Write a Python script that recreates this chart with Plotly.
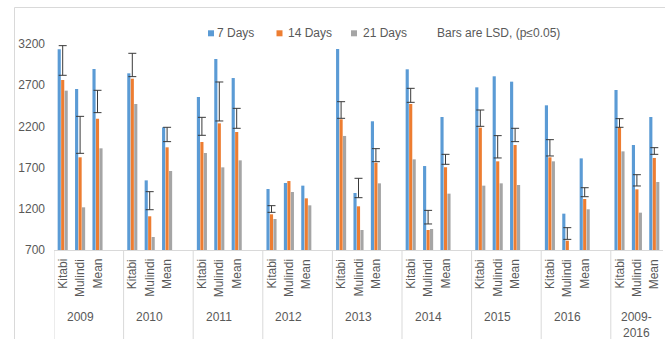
import plotly.graph_objects as go

# Yield by site and year for three sampling intervals
years = ["2009", "2010", "2011", "2012", "2013", "2014", "2015", "2016", "2009-<br>2016"]
sites = ["Kitabi", "Mulindi", "Mean"]

days7 = [3135, 2654, 2897, 2844, 1545, 2189, 2557, 3018, 2787,
         1440, 1513, 1481, 3139, 1392, 2262, 2893, 1719, 2314,
         2674, 2808, 2743, 2456, 1141, 1812, 2642, 1974, 2314]
days14 = [2763, 1825, 2294, 2779, 1109, 1946, 2011, 2237, 2132,
          1133, 1537, 1327, 2286, 1230, 1760, 2472, 943, 1703,
          2185, 1776, 1974, 1825, 813, 1319, 2189, 1436, 1817]
days21 = [2634, 1218, 1934, 2472, 858, 1659, 1877, 1703, 1788,
          1076, 1404, 1242, 2084, 943, 1509, 1800, 955, 1384,
          1481, 1509, 1489, 1776, None, 1194, 1897, 1153, 1525]

# LSD (p<=0.05) interval ends
lsd_low = [2820, 1873, 2367, 2804, 1189, 2015, 2092, 2266, 2177,
           1157, None, None, 2298, 1335, 1772, 2492, 1016, 1740,
           2201, 1817, 2015, 1841, 829, 1347, 2189, 1477, 1861]
lsd_high = [3180, 2322, 2638, 3087, 1408, 2189, 2310, 2739, 2419,
            1238, None, None, 2500, 1570, 1930, 2662, 1181, 1861,
            2399, 2088, 2177, 2039, 971, 1456, 2294, 1614, 1942]

y_ticks = [700, 1200, 1700, 2200, 2700, 3200]

BLUE, ORANGE, GRAY = "#5B9BD5", "#ED7D31", "#A5A5A5"
TEXT = "#595959"
LINE = "#D9D9D9"
FONT = "Liberation Sans"

W, H = 665, 339
ML, MR, MT, MB = 54, 2, 44, 89
PW, PH = W - ML - MR, H - MT - MB


def px_x(p):
    return (p - ML) / PW


def px_y(p):
    return (H - MB - p) / PH


# each year block holds three sites plus a spacer slot
slots = [4 * g + c for g in range(len(years)) for c in range(len(sites))]

fig = go.Figure()
for name, vals, col in [("7 Days", days7, BLUE), ("14 Days", days14, ORANGE), ("21 Days", days21, GRAY)]:
    fig.add_trace(go.Bar(x=slots, y=vals, name=name, marker=dict(color=col, line=dict(width=0))))

centers = [None if lo is None else (lo + hi) / 2 for lo, hi in zip(lsd_low, lsd_high)]
halves = [None if lo is None else (hi - lo) / 2 for lo, hi in zip(lsd_low, lsd_high)]
fig.add_trace(go.Scatter(
    x=slots, y=centers, mode="markers", name="Bars are LSD, (p≤0.05)",
    marker=dict(size=1, color="rgba(0,0,0,0)"),
    error_y=dict(type="data", array=halves, visible=True, color="#3A3A3A", thickness=1, width=4),
))

annotations = []
shapes = []
for g, yr in enumerate(years):
    for c, s in enumerate(sites):
        annotations.append(dict(
            x=4 * g + c, xref="x", y=0, yref="paper", text=s, textangle=-90,
            showarrow=False, xanchor="center", yanchor="top", yshift=-7,
            font=dict(family=FONT, size=12, color=TEXT)))
    last = 4 * g + len(sites) - 1
    annotations.append(dict(
        x=(4 * g - 0.5 + last + 0.5) / 2, xref="x", y=0, yref="paper", text=yr,
        showarrow=False, xanchor="center", yanchor="top", yshift=-58,
        font=dict(family=FONT, size=12, color=TEXT)))
    shapes.append(dict(type="line", xref="x", yref="paper", x0=4 * g - 0.5, x1=4 * g - 0.5,
                       y0=0, y1=-0.5, line=dict(color=LINE, width=1)))

# chart frame edges
shapes.append(dict(type="line", xref="paper", yref="paper", x0=px_x(14.5), x1=px_x(14.5),
                   y0=px_y(7.5), y1=px_y(360), line=dict(color=LINE, width=1)))
shapes.append(dict(type="line", xref="paper", yref="paper", x0=px_x(14.5), x1=px_x(700),
                   y0=px_y(7.5), y1=px_y(7.5), line=dict(color=LINE, width=1)))

# legend row
legend_items = [("7 Days", BLUE, 211, 215), ("14 Days", ORANGE, 279.5, 286),
                ("21 Days", GRAY, 354, 360.5)]
for label, col, sq, tx in legend_items:
    shapes.append(dict(type="rect", xref="paper", yref="paper",
                       x0=px_x(sq - 3), x1=px_x(sq + 3), y0=px_y(36.3), y1=px_y(30.3),
                       fillcolor=col, line=dict(width=0)))
    annotations.append(dict(x=px_x(tx), xref="paper", y=px_y(33.3), yref="paper", text=label,
                            showarrow=False, xanchor="left", yanchor="middle",
                            font=dict(family=FONT, size=12, color=TEXT)))
annotations.append(dict(x=px_x(434.5), xref="paper", y=px_y(33.3), yref="paper",
                        text="Bars are LSD, (p≤0.05)", showarrow=False,
                        xanchor="left", yanchor="middle",
                        font=dict(family=FONT, size=12, color=TEXT)))

fig.update_layout(
    width=W, height=H,
    margin=dict(l=ML, r=MR, t=MT, b=MB, pad=0),
    paper_bgcolor="white", plot_bgcolor="white",
    barmode="group", bargap=0.4, bargroupgap=0.1,
    showlegend=False,
    font=dict(family=FONT, size=12, color=TEXT),
    xaxis=dict(range=[-0.5, slots[-1] + 0.5], showticklabels=False, ticks="",
               showgrid=False, zeroline=False, showline=True, linecolor=LINE, linewidth=1),
    yaxis=dict(range=[y_ticks[0], y_ticks[-1]], tickvals=y_ticks, ticks="",
               showgrid=False, zeroline=False, showline=False,
               tickfont=dict(family=FONT, size=12, color=TEXT), ticklabelstandoff=8),
    annotations=annotations, shapes=shapes,
)

fig.write_html("out.html")
